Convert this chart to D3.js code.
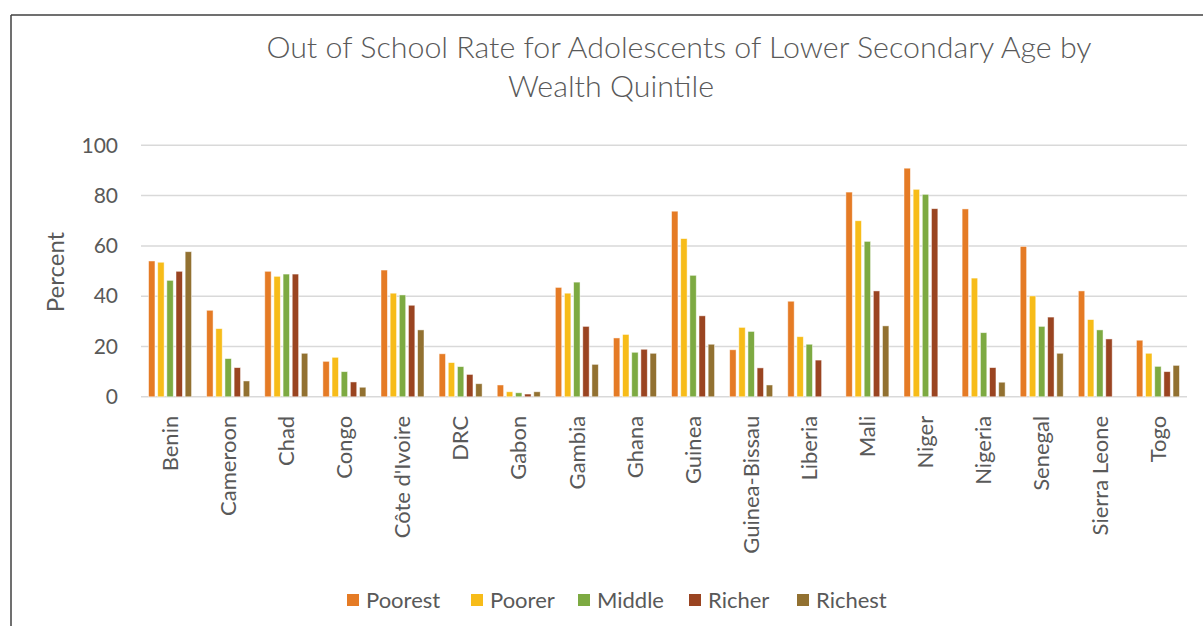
<!DOCTYPE html>
<html>
<head>
<meta charset="utf-8">
<script src="https://cdn.jsdelivr.net/npm/d3@7"></script>
<style>
  html, body { margin: 0; padding: 0; background: #fff; }
  svg { display: block; }
  text { font-family: Lato, "Open Sans", "Noto Sans", sans-serif; fill: #595959; }
</style>
</head>
<body>
<svg id="chart" width="1203" height="626"></svg>
<script>
const categories = ["Benin","Cameroon","Chad","Congo","Côte d'Ivoire","DRC","Gabon","Gambia","Ghana","Guinea","Guinea-Bissau","Liberia","Mali","Niger","Nigeria","Senegal","Sierra Leone","Togo"];
const seriesNames = ["Poorest","Poorer","Middle","Richer","Richest"];
const poorest = [54.0,34.4,49.9,14.1,50.4,17.1,4.7,43.5,23.4,73.8,18.7,38.0,81.4,90.9,74.7,59.8,42.1,22.5];
const poorer  = [53.5,27.1,47.9,15.7,41.2,13.6,2.0,41.2,24.8,62.9,27.6,23.9,70.0,82.5,47.2,40.1,30.7,17.3];
const middle  = [46.3,15.2,48.8,10.0,40.5,12.0,1.6,45.6,17.7,48.3,26.0,20.9,61.8,80.5,25.5,28.0,26.6,12.1];
const richer  = [49.9,11.6,48.8,5.9,36.4,8.9,1.1,28.0,18.9,32.2,11.5,14.6,42.1,74.8,11.6,31.7,23.0,10.0];
const richest = [57.7,6.3,17.3,3.8,26.6,5.2,2.0,12.9,17.3,20.9,4.7,null,28.2,null,5.8,17.3,null,12.5];
const yTicks = [0,20,40,60,80,100];
const colors = ["#E57B25","#F7BC19","#7DAA42","#9A4421","#927131"];
const titleLines = ["Out of School Rate for Adolescents of Lower Secondary Age by","Wealth Quintile"];
const yLabel = "Percent";

const seriesValues = [poorest, poorer, middle, richer, richest];

const svg = d3.select("#chart");

// frame
svg.append("line").attr("x1",11).attr("x2",1203).attr("y1",15).attr("y2",15).attr("stroke","#404040").attr("stroke-width",1.5);
svg.append("line").attr("x1",11).attr("x2",11).attr("y1",15).attr("y2",626).attr("stroke","#404040").attr("stroke-width",1.5);

const plotLeft = 141, plotRight = 1187, plotTop = 145.3, plotBottom = 396.8;

const x0 = d3.scaleBand().domain(categories).range([plotLeft, plotRight]).paddingInner(0.26).paddingOuter(0.13);
const x1 = d3.scaleBand().domain(seriesNames).range([0, x0.bandwidth()]).paddingInner(0.3);
const y = d3.scaleLinear().domain([0,100]).range([plotBottom, plotTop]);

// gridlines
svg.append("g").selectAll("line").data(yTicks).join("line")
  .attr("x1", plotLeft).attr("x2", plotRight)
  .attr("y1", d => y(d)).attr("y2", d => y(d))
  .attr("stroke", "#D9D9D9").attr("stroke-width", 1.5);

// y tick labels
const yAxis = d3.axisLeft(y).tickValues(yTicks).tickSize(0).tickPadding(0);
const yg = svg.append("g").attr("transform", `translate(${118},0)`).call(yAxis);
yg.select(".domain").remove();
yg.selectAll("text").attr("font-size", 21).style("font-family","Lato, 'Open Sans', sans-serif").attr("fill","#595959");

// bars
const groups = svg.append("g").selectAll("g").data(categories).join("g")
  .attr("transform", d => `translate(${x0(d)},0)`);
groups.selectAll("rect").data((c, i) => seriesNames.map((s, j) => ({s, j, v: seriesValues[j][i]})).filter(d => d.v != null))
  .join("rect")
  .attr("x", d => x1(d.s))
  .attr("width", x1.bandwidth())
  .attr("y", d => y(d.v))
  .attr("height", d => y(0) - y(d.v))
  .attr("fill", d => colors[d.j])
  .attr("stroke", "#fff").attr("stroke-opacity", 0.6).attr("stroke-width", 0.8);

// x labels
const xAxis = d3.axisBottom(x0).tickSize(0).tickPadding(0);
const xg = svg.append("g").attr("transform", `translate(0,${plotBottom})`).call(xAxis);
xg.select(".domain").remove();
xg.selectAll("text")
  .attr("transform", "rotate(-90)")
  .attr("x", -19).attr("y", 0).attr("dy", "0.35em")
  .attr("text-anchor", "end")
  .attr("font-size", 22)
  .style("font-family","Lato, 'Open Sans', sans-serif")
  .attr("fill", "#595959");

// y label
svg.append("text").attr("transform", "translate(56,272) rotate(-90)")
  .attr("text-anchor","middle").attr("dy","0.35em").attr("font-size",24).text(yLabel);

// title
svg.append("text").attr("x", 679).attr("y", 58).attr("text-anchor","middle")
  .attr("font-size", 30.4).attr("font-weight", 300).text(titleLines[0]);
svg.append("text").attr("x", 611).attr("y", 97).attr("text-anchor","middle")
  .attr("font-size", 30.4).attr("font-weight", 300).text(titleLines[1]);

// legend
const legendX = [347, 471, 578, 689, 797];
const lg = svg.append("g").selectAll("g").data(seriesNames).join("g")
  .attr("transform", (d, i) => `translate(${legendX[i]},600)`);
lg.append("rect").attr("x",0).attr("y",-6).attr("width",12).attr("height",12).attr("fill",(d,i)=>colors[i]);
lg.append("text").attr("x",19).attr("dy","0.35em").attr("font-size",22).text(d => d);
</script>
</body>
</html>
